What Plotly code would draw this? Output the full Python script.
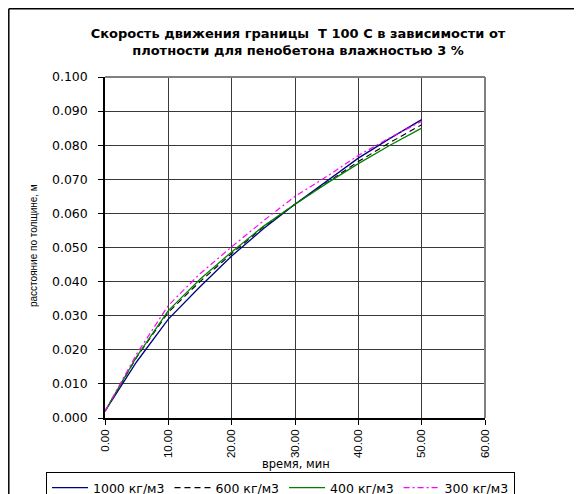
import plotly.graph_objects as go

title_text = "Скорость движения границы  T 100 С в зависимости от<br>плотности для пенобетона влажностью 3 %"
x_title = "время, мин"
y_title = "расстояние по толщине, м"

time_min = [0, 2.5, 5, 10, 15, 20, 25, 30, 35, 40, 45, 50]
series_names = ["1000 кг/м3", "600 кг/м3", "400 кг/м3", "300 кг/м3"]
v1000 = [0.002, 0.0092, 0.0165, 0.0290, 0.0385, 0.0475, 0.0555, 0.0627, 0.0695, 0.0762, 0.0820, 0.0875]
v600 = [0.002, 0.0097, 0.0178, 0.0310, 0.0400, 0.0482, 0.0560, 0.0627, 0.0690, 0.0752, 0.0808, 0.0860]
v400 = [0.002, 0.0098, 0.0180, 0.0315, 0.0407, 0.0487, 0.0562, 0.0627, 0.0688, 0.0746, 0.0800, 0.0850]
v300 = [0.002, 0.0102, 0.0188, 0.0330, 0.0423, 0.0502, 0.0578, 0.0650, 0.0708, 0.0770, 0.0822, 0.0870]

x_ticks = [0, 10, 20, 30, 40, 50, 60]
y_ticks = [0, 0.01, 0.02, 0.03, 0.04, 0.05, 0.06, 0.07, 0.08, 0.09, 0.10]

styles = [
    dict(color="#000080", dash="solid", width=1.3),
    dict(color="#000000", dash="6px,4px", width=1.1),
    dict(color="#008000", dash="solid", width=1.3),
    dict(color="#FF00FF", dash="6px,3px,2px,3px", width=1.2),
]

fig = go.Figure()
for name, vals, st in zip(series_names, [v1000, v600, v400, v300], styles):
    fig.add_trace(go.Scatter(x=time_min, y=vals, mode="lines", name=name, line=st))

# page has an 8px body margin: figure is 574x486 placed at (8, 8)
OFF = 8
W, H = 574, 486
L, R, T, B = 97, 97, 69, 76
pw, ph = W - L - R, H - T - B

def px_x(p):  # page pixel -> paper x
    return (p - OFF - L) / pw

def px_y(p):  # page pixel -> paper y
    return (H - B - (p - OFF)) / ph

font_main = "Arial, Liberation Sans, sans-serif"

fig.update_layout(
    width=W, height=H,
    margin=dict(l=L, r=R, t=T, b=B, autoexpand=False),
    paper_bgcolor="white", plot_bgcolor="white",
    font=dict(family=font_main, color="black"),
    title=dict(text="<b>" + title_text + "</b>", x=px_x(298), xref="paper", xanchor="center",
               y=1 - 30 / H, yref="container", yanchor="middle",
               font=dict(family="DejaVu Sans, sans-serif", size=13, color="black")),
    showlegend=True,
    legend=dict(orientation="h", xref="paper", yref="paper",
                x=px_x(46), y=px_y(472), xanchor="left", yanchor="top",
                bordercolor="black", borderwidth=1, bgcolor="white",
                font=dict(family="DejaVu Sans, sans-serif", size=12.5, color="black"),
                itemwidth=36, tracegroupgap=0),
    xaxis=dict(range=[0, 60], tickvals=x_ticks, tickformat=".2f", tickangle=-90,
               showgrid=True, gridcolor="#3a3a3a", gridwidth=1,
               showline=True, linecolor="black", linewidth=1.5,
               ticks="outside", ticklen=5, tickcolor="black",
               tickfont=dict(family=font_main, size=11.5), zeroline=False),
    yaxis=dict(range=[0, 0.1], tickvals=y_ticks, tickformat=".3f",
               showgrid=True, gridcolor="#3a3a3a", gridwidth=1,
               showline=True, linecolor="black", linewidth=1.5,
               ticks="outside", ticklen=5, tickcolor="black", ticklabelstandoff=8,
               tickfont=dict(family="DejaVu Sans, sans-serif", size=12.5), zeroline=False),
)

# plot area right/top border (grey)
fig.add_shape(type="line", xref="paper", yref="paper", x0=0, x1=1, y0=1, y1=1,
              line=dict(color="#808080", width=2), layer="above")
fig.add_shape(type="line", xref="paper", yref="paper", x0=1, x1=1, y0=0, y1=1,
              line=dict(color="#808080", width=2), layer="above")
# chart area border (left and top edges of the figure)
bx = (0.8 - L) / pw
by = (H - B - 0.8) / ph
fig.add_shape(type="line", xref="paper", yref="paper", x0=bx, x1=px_x(600), y0=by, y1=by,
              line=dict(color="black", width=1.5))
fig.add_shape(type="line", xref="paper", yref="paper", x0=bx, x1=bx, y0=by, y1=px_y(520),
              line=dict(color="black", width=1.5))

fig.add_annotation(text=x_title, xref="paper", yref="paper", x=px_x(296), y=px_y(464),
                   showarrow=False, xanchor="center", yanchor="middle",
                   font=dict(family="DejaVu Sans, sans-serif", size=11.5, color="black"))
fig.add_annotation(text=y_title, xref="paper", yref="paper", x=px_x(33), y=px_y(246),
                   showarrow=False, xanchor="center", yanchor="middle", textangle=-90,
                   font=dict(family=font_main, size=10, color="black"))

fig.write_html("out.html")
